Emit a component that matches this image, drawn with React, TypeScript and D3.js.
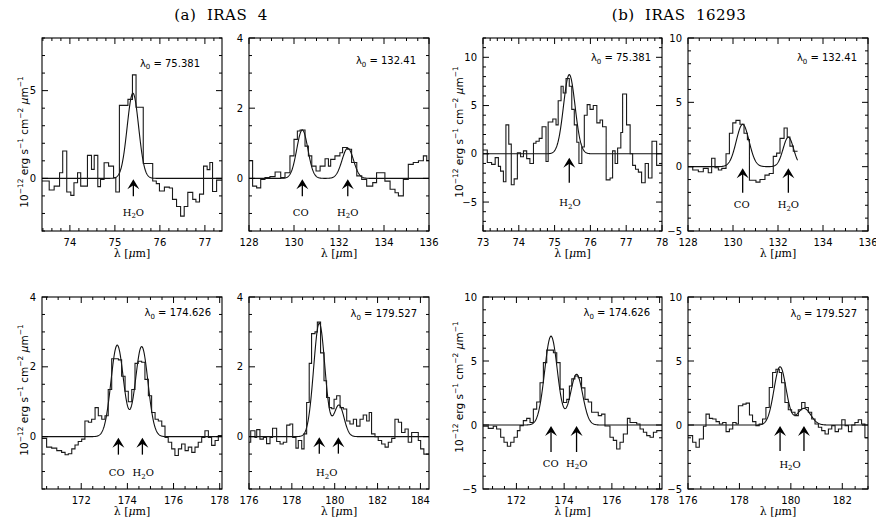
import React from 'react';
import * as d3 from 'd3';

type Pt = [number, number];

// ---------------- DATA ----------------
const panelTitles = ['(a)  IRAS  4', '(b)  IRAS  16293'];
const lambda0Text = ['75.381', '132.41', '75.381', '132.41', '174.626', '179.527', '174.626', '179.527'];

const xDomains: Pt[] = [[73.38, 77.38], [128, 136], [73, 78], [128, 136], [170.3, 178.1], [176, 184.4], [170.6, 178.1], [176, 183]];
const yDomains: Pt[] = [[-3, 8], [-1.5, 4], [-8, 12], [-5, 10], [-1.5, 4], [-1.5, 4], [-5, 10], [-5, 10]];
const xMajorTicks = [
  [74, 75, 76, 77], [128, 130, 132, 134, 136], [73, 74, 75, 76, 77, 78], [128, 130, 132, 134, 136],
  [172, 174, 176, 178], [176, 178, 180, 182, 184], [172, 174, 176, 178], [176, 178, 180, 182],
];
const xMinorStep = [0.2, 0.5, 0.2, 0.5, 0.5, 0.5, 0.5, 0.5];
const yMajorTicks = [[0, 5], [0, 2, 4], [-5, 0, 5, 10], [-5, 0, 5, 10], [0, 2, 4], [0, 2, 4], [-5, 0, 5, 10], [-5, 0, 5, 10]];
const yMinorStep = [1, 0.5, 1, 1, 0.5, 0.5, 1, 1];

// Observed spectra: [step start wavelength (um), flux]
const specA75: Pt[] = [[73.38,-0.15],[73.54,-0.66],[73.65,-0.44],[73.77,0.32],[73.84,1.56],[73.93,-0.78],[74.02,-0.97],[74.09,-0.25],[74.17,0.32],[74.24,-0.44],[74.39,1.31],[74.48,0.51],[74.54,1.31],[74.62,-0.47],[74.68,-0.06],[74.76,0.89],[74.86,0.7],[74.97,0.04],[75.02,-0.78],[75.1,4.16],[75.29,4.5],[75.39,5.9],[75.47,4.05],[75.63,0.85],[75.84,-0.15],[75.92,-0.3],[75.99,-0.72],[76.1,-0.5],[76.21,-0.55],[76.28,-1.2],[76.37,-1.6],[76.46,-2.15],[76.54,-1.6],[76.62,-0.8],[76.73,-1.2],[76.8,-1.35],[76.88,-0.9],[76.97,0.7],[77.05,0.5],[77.11,0.9],[77.17,-0.75],[77.26,-0.1]];
const specA132: Pt[] = [[128,0.51],[128.16,-0.22],[128.34,-0.27],[128.52,-0.03],[128.71,0.02],[128.93,0.05],[129.16,0.18],[129.41,0.02],[129.6,0.16],[129.82,0.64],[130,1.11],[130.15,1.35],[130.27,1.38],[130.49,0.92],[130.64,0.64],[130.79,0.35],[130.98,0.21],[131.16,0.35],[131.38,0.56],[131.53,0.35],[131.63,0.54],[131.82,0.64],[132.04,0.73],[132.16,0.88],[132.37,0.83],[132.56,0.45],[132.79,0.07],[133.01,-0.03],[133.23,-0.22],[133.5,-0.12],[133.67,0.16],[134.04,-0.08],[134.27,-0.31],[134.49,-0.41],[134.64,-0.5],[134.86,-0.03],[135.08,0.4],[135.3,0.45],[135.53,0.5],[135.75,0.64],[135.9,0.51]];
const specB75: Pt[] = [[73,0.4],[73.12,-0.9],[73.24,-1.1],[73.34,-0.4],[73.43,-1.3],[73.49,-1.8],[73.57,-2.9],[73.64,3.0],[73.72,1.0],[73.79,-3.2],[73.87,-2.6],[73.96,0.1],[74.05,-0.3],[74.13,0.3],[74.22,-0.5],[74.31,-1.0],[74.41,1.1],[74.48,1.3],[74.57,1.6],[74.65,2.8],[74.76,-0.8],[74.82,3.3],[74.95,3.6],[75.04,3.0],[75.1,5.5],[75.18,7.0],[75.24,6.3],[75.32,7.8],[75.41,7.0],[75.48,4.6],[75.55,3.0],[75.62,1.2],[75.68,-1.0],[75.76,0.7],[75.83,4.0],[75.91,5.1],[75.99,4.6],[76.08,5.0],[76.18,3.2],[76.27,3.5],[76.34,2.8],[76.44,-2.7],[76.55,-2.5],[76.62,0.3],[76.69,-1.0],[76.76,0.6],[76.85,2.2],[76.9,6.2],[77.01,3.0],[77.11,0.0],[77.18,-1.2],[77.26,-1.6],[77.34,-1.9],[77.43,-3.0],[77.53,-1.0],[77.62,-2.5],[77.72,1.3],[77.85,-1.2]];
const specB132: Pt[] = [[128,0],[128.21,-0.26],[128.46,-0.4],[128.68,-0.13],[128.9,-0.47],[129.05,0.66],[129.2,-0.08],[129.35,-0.26],[129.5,-0.13],[129.69,1.0],[129.84,2.6],[129.99,3.4],[130.13,3.6],[130.31,3.3],[130.49,2.6],[130.64,2.1],[130.73,-1.05],[131.02,-1.2],[131.2,-1.0],[131.42,-0.66],[131.61,-0.53],[131.79,0.8],[131.94,1.05],[132.09,2.2],[132.27,3.0],[132.41,2.3],[132.53,1.6],[132.68,1.2]];
const specA174: Pt[] = [[170.3,-0.05],[170.5,-0.3],[170.72,-0.33],[170.94,-0.4],[171.15,-0.45],[171.3,-0.52],[171.44,-0.49],[171.59,-0.35],[171.73,-0.24],[171.87,-0.14],[172.02,-0.07],[172.16,0.45],[172.31,0.41],[172.45,0.5],[172.6,0.83],[172.74,0.6],[172.89,0.5],[173.03,0.6],[173.17,1.35],[173.32,2.23],[173.46,2.23],[173.61,2.2],[173.75,1.73],[173.9,1.3],[174.04,1.0],[174.19,1.35],[174.33,2.1],[174.47,2.16],[174.62,2.13],[174.76,1.64],[174.91,1.17],[175.05,0.69],[175.2,0.5],[175.34,0.45],[175.49,0.3],[175.63,-0.02],[175.77,-0.16],[175.92,-0.35],[176.06,-0.54],[176.21,-0.35],[176.35,-0.21],[176.5,-0.4],[176.64,-0.3],[176.79,-0.45],[176.93,-0.3],[177.07,-0.16],[177.22,-0.02],[177.36,0.17],[177.51,-0.02],[177.65,-0.25],[177.8,-0.11],[177.94,0.03]];
const specA179: Pt[] = [[176,-0.16],[176.08,0.17],[176.28,-0.02],[176.36,0.2],[176.51,-0.07],[176.67,-0.02],[176.82,-0.2],[176.98,-0.02],[177.1,0.24],[177.29,-0.14],[177.45,-0.21],[177.6,-0.16],[177.76,0.33],[177.91,0.36],[178.04,-0.02],[178.19,-0.33],[178.3,-0.11],[178.46,-0.35],[178.57,0.08],[178.69,0.98],[178.81,2.1],[178.92,2.95],[179.08,3.0],[179.19,3.28],[179.34,2.4],[179.5,1.6],[179.62,1.12],[179.75,0.83],[179.86,0.8],[179.97,1.07],[180.09,1.17],[180.25,0.83],[180.4,0.79],[180.56,0.45],[180.71,0.36],[180.87,0.5],[181.02,0.3],[181.18,0.5],[181.33,0.62],[181.49,0.45],[181.61,0.69],[181.72,0.08],[181.88,0.0],[182.03,-0.11],[182.19,-0.21],[182.35,-0.3],[182.5,-0.16],[182.66,-0.05],[182.81,0.5],[182.97,0.41],[183.12,0.12],[183.28,0.22],[183.43,-0.16],[183.59,0.12],[183.74,0.12],[183.9,-0.11],[184.01,-0.35],[184.16,-0.5]];
const specB174: Pt[] = [[170.6,-0.1],[170.82,-0.26],[171.03,-0.1],[171.17,-0.31],[171.34,-0.96],[171.48,-1.35],[171.62,-1.66],[171.76,-1.35],[171.9,-0.96],[172.04,-0.44],[172.15,-0.05],[172.29,0.34],[172.43,0.52],[172.57,0.2],[172.71,1.24],[172.85,1.8],[172.99,3.3],[173.13,4.87],[173.27,5.85],[173.55,5.65],[173.69,4.87],[173.83,2.8],[173.97,1.76],[174.11,2.0],[174.22,3.05],[174.32,3.6],[174.45,3.83],[174.59,3.7],[174.73,2.9],[174.87,2.0],[175.01,1.8],[175.15,1.0],[175.43,0.73],[175.57,0.85],[175.71,-0.08],[175.92,-0.96],[176.06,-1.2],[176.2,-1.87],[176.34,-1.35],[176.48,-0.7],[176.65,0.52],[176.76,0.2],[177.04,0.08],[177.18,-0.31],[177.32,-0.57],[177.46,-0.83],[177.6,-0.96],[177.74,-0.57],[177.88,-0.44]];
const specB179: Pt[] = [[176,-0.83],[176.18,-1.35],[176.31,-1.74],[176.44,-1.09],[176.6,-0.1],[176.7,0.85],[176.83,0.52],[176.96,0.47],[177.09,0.26],[177.22,0.08],[177.35,0.2],[177.48,-0.52],[177.61,-0.31],[177.74,0.2],[177.87,0.08],[177.96,1.5],[178.13,1.63],[178.26,1.71],[178.39,0.78],[178.51,0.26],[178.64,-0.05],[178.77,0.08],[178.9,0.47],[179.03,1.37],[179.16,2.93],[179.29,4.1],[179.42,4.35],[179.55,4.1],[179.64,3.3],[179.77,1.76],[179.9,1.19],[180.03,1.0],[180.16,0.73],[180.29,1.19],[180.42,1.76],[180.55,1.37],[180.68,1.0],[180.81,0.47],[180.94,0.08],[181.07,-0.18],[181.2,-0.44],[181.33,-0.7],[181.46,-0.31],[181.59,-0.05],[181.72,-0.52],[181.85,-0.31],[181.98,0.41],[182.11,-0.05],[182.24,-0.52],[182.37,0.0],[182.49,0.2],[182.62,0.41],[182.75,0.08],[182.88,-1.0]];
const spectra = [specA75, specA132, specB75, specB132, specA174, specA179, specB174, specB179];
const specEnds = [77.38, 136, 78, 132.87, 178.1, 184.4, 178.1, 183];

// Gaussian line fits: centres, peak heights, FWHM (um)
const fitCenters = [[75.4], [130.37, 132.39], [75.41], [130.43, 132.46], [173.56, 174.62], [179.28, 180.2], [173.45, 174.52], [179.58, 180.51]];
const fitAmps = [[4.85], [1.38, 0.86], [8.2], [3.29, 2.29], [2.62, 2.58], [3.25, 0.9], [6.94, 3.96], [4.55, 1.3]];
const fitFwhm = [[0.3], [0.58, 0.6], [0.38], [0.67, 0.55], [0.64, 0.64], [0.62, 0.55], [0.63, 0.6], [0.56, 0.62]];
const fitRanges: Pt[] = [[73.38, 77.38], [128, 136], [73, 78], [128, 132.87], [170.3, 178.1], [176, 184.4], [170.6, 178.1], [176, 183]];

// Line identification arrows and labels
const arrowLambdas = [[75.41], [130.37, 132.39], [75.41], [130.43, 132.46], [173.61, 174.65], [179.28, 180.17], [173.45, 174.52], [179.58, 180.51]];
const labelTexts = [['H2O'], ['CO', 'H2O'], ['H2O'], ['CO', 'H2O'], ['CO', 'H2O'], ['H2O'], ['CO', 'H2O'], ['H2O']];
const labelLambdas = [[75.41], [130.3, 132.39], [75.43], [130.39, 132.46], [173.54, 174.69], [179.63], [173.44, 174.53], [179.97]];

// ---------------- LAYOUT ----------------
const panelLeft = [42, 249, 483, 688, 42, 249, 483, 688];
const panelTop = [38, 38, 38, 38, 297, 297, 297, 297];
const panelW = [180, 180, 179, 180, 180, 180, 179, 180];
const panelH = [193, 193, 193, 193, 192, 192, 192, 192];
const l0Right = [22, 13, 11, 11, 11, 12, 12, 11];
const l0Base = [28.5, 26, 23, 23, 19, 20, 19, 20];
const tipOff = [1, 1, 4, 1.5, 1, 0.5, 1, 1];
const tailOff = [18, 18, 29, 26, 18, 17, 27, 26];
const labelOff = [34, 34, 49, 38, 36, 36, 38, 39];
const yLabX = [28, 0, 463, 0, 28, 0, 463, 0];
const yLabY = [142, 0, 132, 0, 390, 0, 387, 0];

const SANS = 'DejaVu Sans';
const SERIF = 'DejaVu Serif';

const fmt = (v: number) => (v < 0 ? '\u2212' + Math.abs(v) : String(v));

function Chem({ t }: { t: string }) {
  if (t === 'H2O') {
    return (
      <>
        H<tspan dy={2.5} fontSize={7}>2</tspan>
        <tspan dy={-2.5}>O</tspan>
      </>
    );
  }
  return <>{t}</>;
}

function minorTicks(dom: Pt, step: number, majors: number[]) {
  const lo = Math.ceil(dom[0] / step - 1e-6);
  const hi = Math.floor(dom[1] / step + 1e-6);
  return d3
    .range(lo, hi + 1)
    .map((k) => k * step)
    .filter((v) => !majors.some((m) => Math.abs(m - v) < 1e-6));
}

function Panel({ i }: { i: number }) {
  const x0 = panelLeft[i];
  const y0 = panelTop[i];
  const w = panelW[i];
  const h = panelH[i];
  const x = d3.scaleLinear().domain(xDomains[i]).range([x0, x0 + w]);
  const y = d3.scaleLinear().domain(yDomains[i]).range([y0 + h, y0]);

  const spec = spectra[i];
  const pts: Pt[] = [...spec, [specEnds[i], spec[spec.length - 1][1]]];
  const histPath =
    d3
      .line<Pt>()
      .x((d) => x(d[0]))
      .y((d) => y(d[1]))
      .curve(d3.curveStepAfter)(pts) || '';

  const [f0, f1] = fitRanges[i];
  const n = 500;
  const fitPts: Pt[] = d3.range(n + 1).map((k) => {
    const l = f0 + ((f1 - f0) * k) / n;
    let v = 0;
    fitCenters[i].forEach((c, j) => {
      v += fitAmps[i][j] * Math.exp((-4 * Math.LN2 * (l - c) * (l - c)) / (fitFwhm[i][j] * fitFwhm[i][j]));
    });
    return [l, v];
  });
  const fitPath =
    d3
      .line<Pt>()
      .x((d) => x(d[0]))
      .y((d) => y(d[1]))
      .curve(d3.curveLinear)(fitPts) || '';

  const xMaj = xMajorTicks[i];
  const xMin = minorTicks(xDomains[i], xMinorStep[i], xMaj);
  const yMaj = yMajorTicks[i];
  const yMin = minorTicks(yDomains[i], yMinorStep[i], yMaj);
  const MJ = 6;
  const MN = 3;
  const clipId = `clip${i}`;
  const zeroY = y(0);

  return (
    <g>
      <defs>
        <clipPath id={clipId}>
          <rect x={x0} y={y0} width={w} height={h} />
        </clipPath>
      </defs>
      <g clipPath={`url(#${clipId})`} fill="none">
        <path d={fitPath} stroke="#111" strokeWidth={1.1} />
        <path d={histPath} stroke="#1a1a1a" strokeWidth={1.1} />
      </g>
      <rect x={x0} y={y0} width={w} height={h} fill="none" stroke="#000" strokeWidth={1.1} />
      <g stroke="#000" strokeWidth={1}>
        {xMaj.map((v) => (
          <g key={'xM' + v}>
            <line x1={x(v)} x2={x(v)} y1={y0 + h} y2={y0 + h - MJ} />
            <line x1={x(v)} x2={x(v)} y1={y0} y2={y0 + MJ} />
          </g>
        ))}
        {xMin.map((v) => (
          <g key={'xm' + v}>
            <line x1={x(v)} x2={x(v)} y1={y0 + h} y2={y0 + h - MN} />
            <line x1={x(v)} x2={x(v)} y1={y0} y2={y0 + MN} />
          </g>
        ))}
        {yMaj.map((v) => (
          <g key={'yM' + v}>
            <line x1={x0} x2={x0 + MJ} y1={y(v)} y2={y(v)} />
            <line x1={x0 + w} x2={x0 + w - MJ} y1={y(v)} y2={y(v)} />
          </g>
        ))}
        {yMin.map((v) => (
          <g key={'ym' + v}>
            <line x1={x0} x2={x0 + MN} y1={y(v)} y2={y(v)} />
            <line x1={x0 + w} x2={x0 + w - MN} y1={y(v)} y2={y(v)} />
          </g>
        ))}
      </g>
      <g fontFamily={SANS} fontSize={10} fill="#000">
        {xMaj.map((v) => (
          <text key={'xl' + v} x={x(v)} y={y0 + h + 15} textAnchor="middle">
            {fmt(v)}
          </text>
        ))}
        {yMaj.map((v) => (
          <text key={'yl' + v} x={x0 - 6} y={y(v) + 3.6} textAnchor="end">
            {fmt(v)}
          </text>
        ))}
      </g>
      <text x={x0 + w / 2} y={y0 + h + 25.5} textAnchor="middle" fontFamily={SERIF} fontSize={11}>
        λ [<tspan fontStyle="italic">μ</tspan>m]
      </text>
      <text x={x0 + w - l0Right[i]} y={y0 + l0Base[i]} textAnchor="end" fontFamily={SANS} fontSize={10}>
        λ<tspan dy={2.5} fontSize={7}>0</tspan>
        <tspan dy={-2.5}>{'  =  ' + lambda0Text[i]}</tspan>
      </text>
      {arrowLambdas[i].map((l, k) => {
        const ax = x(l);
        const tip = zeroY + tipOff[i];
        const tail = zeroY + tailOff[i];
        const hw = 6;
        const hh = 10;
        return (
          <g key={'ar' + k}>
            <line x1={ax} x2={ax} y1={tip + 5} y2={tail} stroke="#000" strokeWidth={1.3} />
            <path
              d={`M${ax},${tip} L${ax + hw},${tip + hh} L${ax},${tip + hh - 4} L${ax - hw},${tip + hh} Z`}
              fill="#000"
            />
          </g>
        );
      })}
      {labelTexts[i].map((t, k) => (
        <text
          key={'lb' + k}
          x={x(labelLambdas[i][k])}
          y={zeroY + labelOff[i] + 3.5}
          textAnchor="middle"
          fontFamily={SERIF}
          fontSize={10}
        >
          <Chem t={t} />
        </text>
      ))}
      {yLabX[i] > 0 && (
        <text
          transform={`translate(${yLabX[i]},${yLabY[i]}) rotate(-90)`}
          textAnchor="middle"
          fontFamily={SANS}
          fontSize={10.5}
        >
          10<tspan dy={-5} fontSize={7.5}>−12</tspan>
          <tspan dy={5}> erg s</tspan>
          <tspan dy={-5} fontSize={7.5}>−1</tspan>
          <tspan dy={5}> cm</tspan>
          <tspan dy={-5} fontSize={7.5}>−2</tspan>
          <tspan dy={5}> </tspan>
          <tspan fontStyle="italic">μ</tspan>
          <tspan>m</tspan>
          <tspan dy={-5} fontSize={7.5}>−1</tspan>
        </text>
      )}
    </g>
  );
}

const panelIdx = [0, 1, 2, 3, 4, 5, 6, 7];

export default function App() {
  return (
    <svg
      width={876}
      height={523}
      style={{ position: 'absolute', left: 0, top: 0, background: '#fff' }}
    >
      <rect x={0} y={0} width={876} height={523} fill="#fff" />
      <text x={221} y={20} textAnchor="middle" fontFamily={SERIF} fontSize={15} letterSpacing={0.5} style={{ whiteSpace: 'pre' }}>
        {panelTitles[0]}
      </text>
      <text x={679} y={20} textAnchor="middle" fontFamily={SERIF} fontSize={15} letterSpacing={0.5} style={{ whiteSpace: 'pre' }}>
        {panelTitles[1]}
      </text>
      {panelIdx.map((i) => (
        <Panel key={i} i={i} />
      ))}
    </svg>
  );
}
